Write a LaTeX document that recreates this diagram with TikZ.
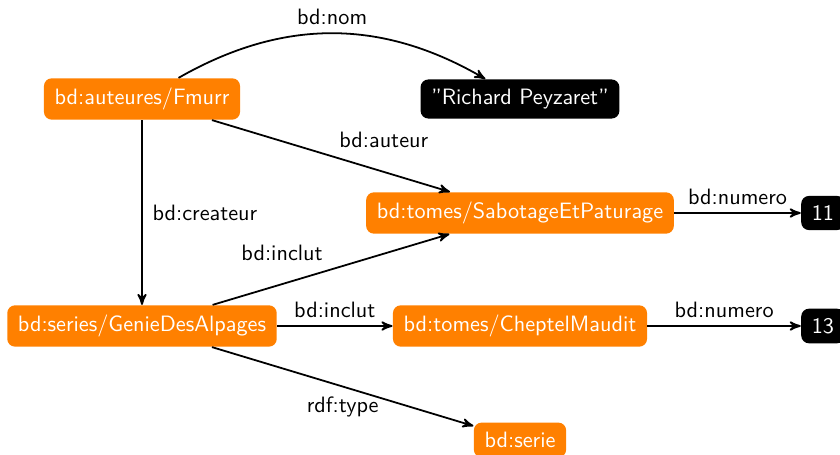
\documentclass[tikz,border=0pt]{standalone}
\usetikzlibrary{arrows}
\definecolor{nodeorange}{RGB}{255,128,0}
\begin{document}
\begin{tikzpicture}[x=0.45pt,y=-0.45pt,
  font=\sffamily,
  every edge/.style={draw,thick,-stealth'},
  res/.style={fill=nodeorange,text=white,rounded corners=3.5pt,inner xsep=4.8pt,inner ysep=4.3pt},
  lit/.style={fill=black,text=white,rounded corners=3.5pt,inner xsep=4.8pt,inner ysep=4.3pt}]
\useasboundingbox (0,0) rectangle (840,455);
\node[res] (fmurr) at (142,99) {bd:auteures/Fmurr};
\node[lit] (nom) at (520,99) {"Richard Peyzaret"};
\node[res] (sabot) at (520,213) {bd:tomes/SabotageEtPaturage};
\node[lit] (n11) at (823,213) {11};
\node[res] (genie) at (142,326) {bd:series/GenieDesAlpages};
\node[res] (chept) at (520,326) {bd:tomes/CheptelMaudit};
\node[lit] (n13) at (823,326) {13};
\node[res] (serie) at (520,440) {bd:serie};
\path (fmurr) edge[bend left=30] node[above] {bd:nom} (nom)
      (fmurr) edge node[above right] {bd:auteur} (sabot)
      (fmurr) edge node[right,xshift=1pt] {bd:createur} (genie)
      (genie) edge node[above left] {bd:inclut} (sabot)
      (genie) edge node[above] {bd:inclut} (chept)
      (genie) edge node[below,yshift=-1pt] {rdf:type} (serie)
      (sabot) edge node[above] {bd:numero} (n11)
      (chept) edge node[above] {bd:numero} (n13);
\end{tikzpicture}
\end{document}
